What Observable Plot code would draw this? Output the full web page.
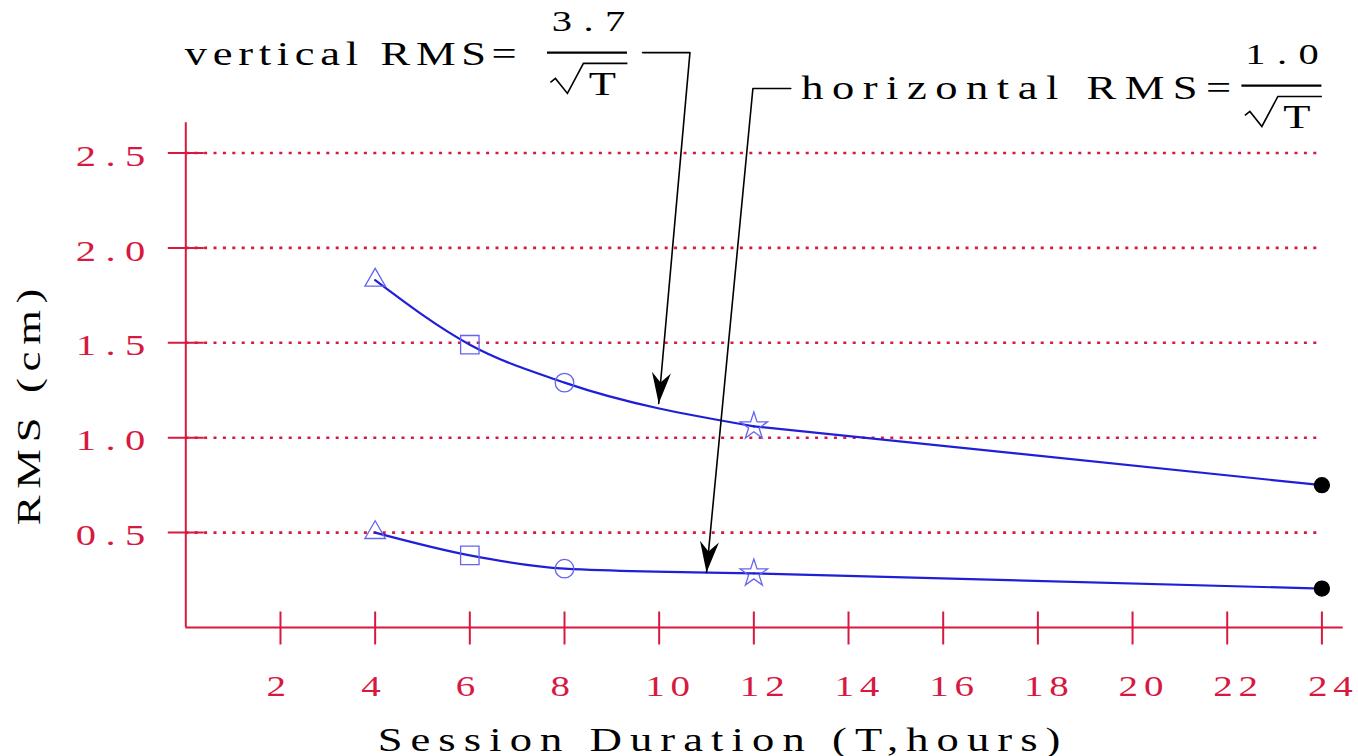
<!DOCTYPE html>
<html>
<head>
<meta charset="utf-8">
<script src="https://cdn.jsdelivr.net/npm/d3@7"></script>
<script src="https://cdn.jsdelivr.net/npm/@observablehq/plot@0.6"></script>
<style>
  html, body { margin: 0; padding: 0; background: #fff; }
  #chart svg { display: block; }
</style>
</head>
<body>
<div id="chart"></div>
<script>
// ---------------- data ----------------
const durations = [4, 6, 8, 12, 24];                    // session duration T (hours)
const verticalRMS = [1.83, 1.49, 1.29, 1.06, 0.75];     // cm
const horizontalRMS = [0.50, 0.38, 0.31, 0.285, 0.205]; // cm
const markerKinds = ["triangle", "square", "circle", "star", "dot"];
const xTicks = [2, 4, 6, 8, 10, 12, 14, 16, 18, 20, 22, 24];
const yTicks = [0.5, 1.0, 1.5, 2.0, 2.5];
const xTitle = "Session Duration (T,hours)";
const yTitle = "RMS (cm)";

// annotation texts and leaders (data units)
const formulaLabels = [
  {T: -0.02, R: 3.02, text: "vertical RMS="},
  {T: 13.0, R: 2.84, text: "horizontal RMS="}
];
const numerators = [
  {T: 8.48, R: 3.193, text: "3.7"},
  {T: 23.13, R: 3.019, text: "1.0"}
];
const radicands = [
  {T: 8.80, R: 2.861, text: "T"},
  {T: 23.47, R: 2.687, text: "T"}
];
const fractionBars = [
  {T1: 7.64, T2: 9.33, R: 3.029},
  {T1: 22.31, T2: 24.00, R: 2.855}
];
const radicalCorners = [
  {T: 8.40, R: 2.972},
  {T: 23.07, R: 2.798}
];
const leaders = [
  {id: "v", pts: [[9.65, 3.029], [10.65, 3.029], [9.99, 1.18]]},
  {id: "h", pts: [[12.78, 2.84], [11.98, 2.84], [11.00, 0.29]]}
];
const xTitlePos = {T: 11.35, R: -0.595};
const yTitlePos = {T: -3.30, R: 1.18};
const xAxisEnd = 24.45, yAxisTop = 2.66;

// ---------------- styles ----------------
const RED = "#d7193f";
const BLUE = "#1f1fd8";
const MARK = "#6464f0";
const xDomain = [0, 24], xRange = [185.3, 1321.4];
const yDomain = [0, 2.5], yRange = [627, 152.5];
const markerStyle = {
  triangle: {symbol: "triangle", r: 7.6, fill: "none", stroke: MARK},
  square:   {symbol: "square", r: 10.4, fill: "none", stroke: MARK},
  circle:   {symbol: "circle", r: 9.3, fill: "none", stroke: MARK},
  star:     {symbol: "star", r: 8.6, fill: "none", stroke: MARK},
  dot:      {symbol: "circle", r: 7.5, fill: "black", stroke: "black"}
};
// letter spacing (px, before stretch) and horizontal stretch per text group
const lettering = {
  xticks:   {spacing: 4.5, stretch: 1.3},
  yticks:   {spacing: 7, stretch: 1.35},
  xtitle:   {spacing: 6, stretch: 1.35},
  ytitle:   {spacing: 5, stretch: 1.35},
  vlabel:   {spacing: 4.2, stretch: 1.35},
  hlabel:   {spacing: 6.3, stretch: 1.35},
  numer:    {spacing: 8.5, stretch: 1.35},
  radicand: {spacing: 0, stretch: 1.35}
};

// ---------------- table ----------------
const rows = [];
durations.forEach((T, i) => {
  rows.push({series: "vertical", T, R: verticalRMS[i], kind: markerKinds[i]});
  rows.push({series: "horizontal", T, R: horizontalRMS[i], kind: markerKinds[i]});
});
const leaderRows = leaders.flatMap(l => l.pts.map(([T, R]) => ({id: l.id, T, R})));

// pixel helpers (same mapping as the Plot scales) for arrowhead orientation
const px = d3.scaleLinear(xDomain, xRange), py = d3.scaleLinear(yDomain, yRange);
function arrowHead(l) {
  const [a, b] = l.pts.slice(-2);
  const dx = px(b[0]) - px(a[0]), dy = py(b[1]) - py(a[1]);
  const n = Math.hypot(dx, dy), ux = dx / n, uy = dy / n, nx = -uy, ny = ux;
  const L = 31, W = 9.5, N = 21;
  return {
    draw(ctx) {
      ctx.moveTo(0, 0);
      ctx.lineTo(-L * ux + W * nx, -L * uy + W * ny);
      ctx.lineTo(-N * ux, -N * uy);
      ctx.lineTo(-L * ux - W * nx, -L * uy - W * ny);
      ctx.closePath();
    }
  };
}
const hTick = {draw(ctx) { ctx.moveTo(-18, 0); ctx.lineTo(18, 0); }};
const vTick = {draw(ctx) { ctx.moveTo(0, -16); ctx.lineTo(0, 17); }};
const radical = {draw(ctx) {
  ctx.moveTo(-33, 19); ctx.lineTo(-28, 15); ctx.lineTo(-16, 30); ctx.lineTo(0, 0); ctx.lineTo(44, 0);
}};

const marks = [
  // dotted grid
  Plot.ruleY(yTicks, {y: d => d, x1: 0, x2: 24, stroke: RED, strokeWidth: 2.6, strokeDasharray: "3,6.4"}),
  // axes
  Plot.ruleX([0], {x: d => d, y1: 0, y2: yAxisTop, stroke: RED, strokeWidth: 2}),
  Plot.ruleY([0], {y: d => d, x1: 0, x2: xAxisEnd, stroke: RED, strokeWidth: 2}),
  Plot.dot(yTicks, {x: 0, y: d => d, symbol: hTick, fill: "none", stroke: RED, strokeWidth: 2}),
  Plot.dot(xTicks, {x: d => d, y: 0, symbol: vTick, fill: "none", stroke: RED, strokeWidth: 2}),
  // tick labels
  Plot.text(xTicks, {x: d => d, y: 0, text: d => String(d), dx: -14, dy: 59, textAnchor: "start",
    fill: RED, fontSize: 30, ariaDescription: "xticks"}),
  Plot.text(yTicks, {x: 0, y: d => d, text: d => d.toFixed(1), dx: -31, dy: 3, textAnchor: "end",
    fill: RED, fontSize: 30, ariaDescription: "yticks"}),
  // axis titles
  Plot.text([xTitlePos], {x: "T", y: "R", text: () => xTitle, fill: "black", fontSize: 33, ariaDescription: "xtitle"}),
  Plot.text([yTitlePos], {x: "T", y: "R", text: () => yTitle, rotate: -90, fill: "black", fontSize: 33, ariaDescription: "ytitle"}),
  // curves: smooth through the short sessions, straight towards 24 h
  Plot.line(rows.filter(d => d.T <= 12), {x: "T", y: "R", z: "series", curve: "monotone-x", stroke: BLUE, strokeWidth: 2.2}),
  Plot.line(rows.filter(d => d.T >= 12), {x: "T", y: "R", z: "series", stroke: BLUE, strokeWidth: 2.2}),
  // markers
  ...markerKinds.map(k => Plot.dot(rows.filter(d => d.kind === k), {
    x: "T", y: "R", symbol: markerStyle[k].symbol, r: markerStyle[k].r,
    fill: markerStyle[k].fill, stroke: markerStyle[k].stroke, strokeWidth: 1.3
  })),
  // annotations
  Plot.line(leaderRows, {x: "T", y: "R", z: "id", stroke: "black", strokeWidth: 1.6}),
  ...leaders.map(l => Plot.dot([l.pts[l.pts.length - 1]], {x: d => d[0], y: d => d[1], symbol: arrowHead(l), fill: "black", stroke: "none"})),
  Plot.ruleY(fractionBars, {y: "R", x1: "T1", x2: "T2", stroke: "black", strokeWidth: 2.4}),
  Plot.dot(radicalCorners, {x: "T", y: "R", symbol: radical, fill: "none", stroke: "black", strokeWidth: 1.6}),
  Plot.text(formulaLabels.slice(0, 1), {x: "T", y: "R", text: "text", textAnchor: "start", fill: "black", fontSize: 33, ariaDescription: "vlabel"}),
  Plot.text(formulaLabels.slice(1), {x: "T", y: "R", text: "text", textAnchor: "start", fill: "black", fontSize: 33, ariaDescription: "hlabel"}),
  Plot.text(numerators, {x: "T", y: "R", text: "text", fill: "black", fontSize: 30, dx: 7, ariaDescription: "numer"}),
  Plot.text(radicands, {x: "T", y: "R", text: "text", fill: "black", fontSize: 33, ariaDescription: "radicand"})
];

const plot = Plot.plot({
  width: 1358,
  height: 756,
  margin: 0,
  x: {domain: xDomain, range: xRange, axis: null},
  y: {domain: yDomain, range: yRange, axis: null},
  style: {fontFamily: "'Liberation Serif', 'DejaVu Serif', serif", background: "#fff", overflow: "visible"},
  marks
});

// widely spaced, horizontally stretched lettering
plot.querySelectorAll("[aria-description]").forEach(g => {
  const L = lettering[g.getAttribute("aria-description")];
  if (!L) return;
  g.querySelectorAll("text").forEach(t => {
    t.style.letterSpacing = L.spacing + "px";
    const tr = t.getAttribute("transform");
    if (tr) t.setAttribute("transform", tr + ` scale(${L.stretch},1)`);
    else {
      const x = +t.getAttribute("x") || 0, y = +t.getAttribute("y") || 0;
      t.setAttribute("transform", `translate(${x},${y}) scale(${L.stretch},1) translate(${-x},${-y})`);
    }
  });
});
document.getElementById("chart").append(plot);
</script>
</body>
</html>
